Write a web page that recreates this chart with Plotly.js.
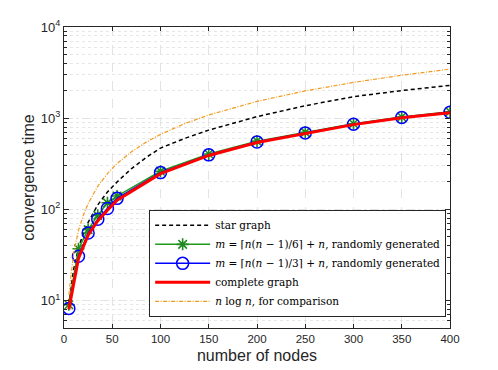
<!DOCTYPE html>
<html>
<head>
<meta charset="utf-8">
<script src="https://cdn.plot.ly/plotly-3.0.1.min.js"></script>
<style>html,body{margin:0;padding:0;background:#fff;}#chart{width:498px;height:370px;}</style>
</head>
<body>
<div id="chart"></div>
<script>
// Node counts for the sampled (marker) series
var nodesSampled = [5, 15, 25, 35, 45, 55, 100, 150, 200, 250, 300, 350, 400];
// Node counts for the smooth reference curves
var nodesCurve = [5, 10, 15, 20, 25, 35, 45, 55, 70, 85, 100, 125, 150, 200, 250, 300, 350, 400];

// Values
var starGraph = [9, 22, 38, 54, 72, 112, 155, 200, 280, 370, 470, 600, 740, 1040, 1370, 1720, 2010, 2290];
var randomSixth = [9, 37, 60, 86, 118, 140, 262, 405, 560, 700, 870, 1030, 1175];
var randomThird = [8.2, 30.6, 55, 78, 102, 132, 253, 396, 548, 690, 860, 1020, 1160];
var completeGraph = [8, 29, 52, 75, 98, 126, 246, 390, 540, 684, 850, 1010, 1145];
var nLogN = [11.6, 33, 58.6, 86, 116, 179, 247, 318, 429, 545, 664, 871, 1084, 1529, 1991, 2469, 2958, 3458];

var yTickVals = [10, 100, 1000, 10000];
var yTickText = ['10<sup>1</sup>', '10<sup>2</sup>', '10<sup>3</sup>', '10<sup>4</sup>'];
var xTickVals = [0, 50, 100, 150, 200, 250, 300, 350, 400];

var legendNames = [
  'star graph',
  '<i>m</i> = ⌈<i>n</i>(<i>n</i> − 1)/6⌉ + <i>n</i>, randomly generated',
  '<i>m</i> = ⌈<i>n</i>(<i>n</i> − 1)/3⌉ + <i>n</i>, randomly generated',
  'complete graph',
  '<i>n</i> log <i>n</i>, for comparison'
];

var traces = [
  {x: nodesCurve, y: starGraph, name: legendNames[0], mode: 'lines',
   line: {color: '#000000', width: 1.5, dash: '4px,3px'}},
  {x: nodesSampled, y: randomSixth, name: legendNames[1], mode: 'lines+markers',
   line: {color: '#1f9a1f', width: 1.5},
   marker: {symbol: 'asterisk-open', size: 10, color: '#1f8a1f', line: {color: '#1f8a1f', width: 1.6}}},
  {x: nodesSampled, y: randomThird, name: legendNames[2], mode: 'lines+markers',
   line: {color: '#0000ff', width: 1.5},
   marker: {symbol: 'circle-open', size: 12, color: '#0000ff', line: {color: '#0000ff', width: 1.5}}},
  {x: nodesSampled, y: completeGraph, name: legendNames[3], mode: 'lines',
   line: {color: '#ff0000', width: 3}},
  {x: nodesCurve, y: nLogN, name: legendNames[4], mode: 'lines',
   line: {color: '#f39a1e', width: 1.2, dash: '4px,1.5px,1px,1.5px'}}
];

var axisColor = '#262626';
var layout = {
  width: 498, height: 370,
  margin: {l: 64, r: 48, t: 27, b: 42},
  paper_bgcolor: '#ffffff', plot_bgcolor: '#ffffff',
  font: {family: 'Liberation Sans', color: axisColor, size: 11},
  showlegend: true,
  legend: {
    x: 0.99, y: 0.037, xanchor: 'right', yanchor: 'bottom',
    bgcolor: '#ffffff', bordercolor: '#262626', borderwidth: 1,
    font: {family: 'DejaVu Serif', size: 10.5, color: '#000000'},
    itemwidth: 55, tracegroupgap: 0
  },
  xaxis: {
    range: [0, 400], tickvals: xTickVals,
    ticks: 'inside', ticklen: 4, tickcolor: axisColor,
    showline: true, linecolor: axisColor, linewidth: 1, mirror: 'ticks',
    showgrid: true, gridcolor: '#e3e3e3', griddash: 'dash', gridwidth: 1,
    zeroline: false,
    tickfont: {size: 11.5, color: axisColor},
    title: {text: 'number of nodes', font: {size: 16, color: axisColor}, standoff: 6}
  },
  yaxis: {
    type: 'log', range: [Math.log10(5), 4],
    tickvals: yTickVals, ticktext: yTickText,
    ticks: 'inside', ticklen: 5, tickcolor: axisColor,
    showline: true, linecolor: axisColor, linewidth: 1, mirror: 'ticks',
    showgrid: true, gridcolor: '#e3e3e3', griddash: 'dash', gridwidth: 1,
    zeroline: false,
    minor: {ticks: 'inside', ticklen: 3, tickcolor: axisColor, showgrid: true, gridcolor: '#e6e6e6', griddash: 'dot', dtick: 'D1'},
    tickfont: {size: 13, color: axisColor},
    title: {text: 'convergence time', font: {size: 16, color: axisColor}, standoff: 2}
  }
};

Plotly.newPlot('chart', traces, layout, {staticPlot: true, displayModeBar: false});
</script>
</body>
</html>
